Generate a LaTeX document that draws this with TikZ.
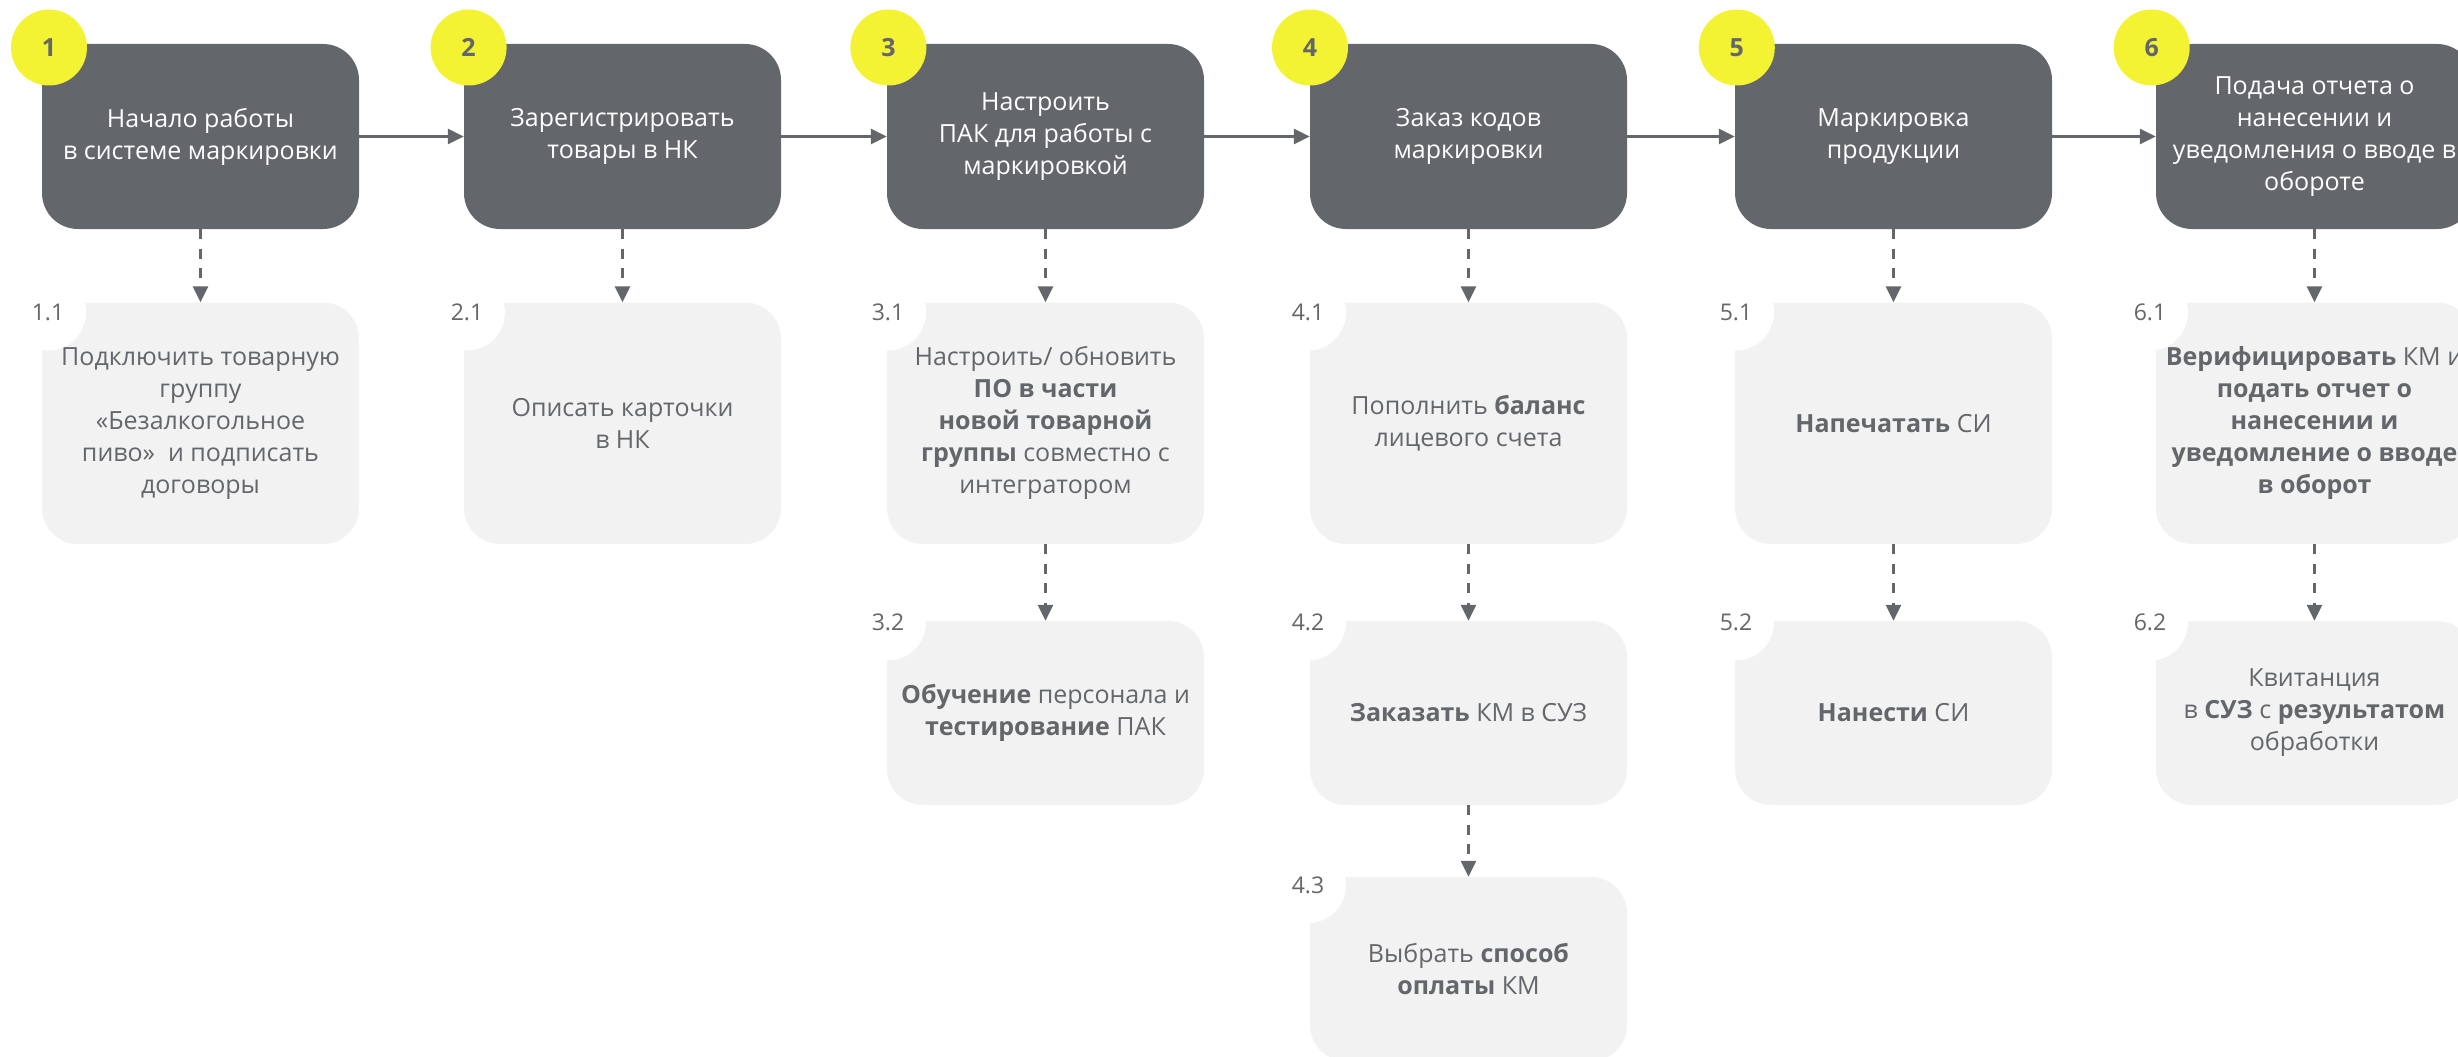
\documentclass[tikz,border=0pt]{standalone}
\usepackage{fontspec}
\setmainfont{Open Sans}
\usetikzlibrary{arrows.meta}
\definecolor{dk}{HTML}{63666A}
\definecolor{lt}{HTML}{F2F2F2}
\definecolor{yl}{HTML}{F3F233}
\tikzset{
  mainbox/.style={rectangle, rounded corners=36pt, fill=dk, text=white,
    minimum width=317pt, minimum height=185pt, inner sep=0pt, align=center,
    font=\fontsize{25}{32}\selectfont},
  subbox/.style={rectangle, rounded corners=36pt, fill=lt, text=dk,
    minimum width=317pt, inner sep=0pt, align=center,
    font=\fontsize{25}{32}\selectfont},
  tallsub/.style={subbox, minimum height=241.5pt},
  shortsub/.style={subbox, minimum height=184pt},
  numdot/.style={circle, fill=yl, minimum size=76pt, inner sep=0pt, text=dk,
    font=\fontsize{25}{30}\selectfont\bfseries},
  labdot/.style={circle, fill=white, minimum size=76pt, inner sep=0pt, text=dk,
    font=\fontsize{23}{28}\selectfont},
  flow/.style={draw=dk, line width=3pt, -{Triangle[length=16pt,width=15pt]}},
  dflow/.style={flow, dash pattern=on 10pt off 9.5pt},
}
\begin{document}
\begin{tikzpicture}[x=1pt,y=-1pt]
\useasboundingbox (0,0) rectangle (2458,1057);
\clip (0,0) rectangle (2458,1057);

% main steps
\node[mainbox] (m1) at (200.5,136.5) {Начало работы\\в системе маркировки};
\node[mainbox] (m2) at (622.5,136.5) {Зарегистрировать\\товары в НК};
\node[mainbox] (m3) at (1045.5,136.5) {Настроить\\ПАК для работы с\\маркировкой};
\node[mainbox] (m4) at (1468.5,136.5) {Заказ кодов\\маркировки};
\node[mainbox] (m5) at (1893.5,136.5) {Маркировка\\продукции};
\node[mainbox] (m6) at (2314.5,136.5) {Подача отчета о\\нанесении и\\уведомления о вводе в\\обороте};

% sub steps, row 1
\node[tallsub] (s11) at (200.5,423.25) {Подключить товарную\\группу\\«Безалкогольное\\пиво»~ и подписать\\договоры};
\node[tallsub] (s21) at (622.5,423.25) {Описать карточки\\в НК};
\node[tallsub] (s31) at (1045.5,423.25) {Настроить/ обновить\\\textbf{ПО в части}\\\textbf{новой товарной}\\\textbf{группы} совместно с\\интегратором};
\node[tallsub] (s41) at (1468.5,423.25) {Пополнить \textbf{баланс}\\лицевого счета};
\node[tallsub] (s51) at (1893.5,423.25) {\textbf{Напечатать} СИ};
\node[tallsub] (s61) at (2314.5,423.25) {\textbf{Верифицировать} КМ и\\\textbf{подать отчет о}\\\textbf{нанесении и}\\\textbf{уведомление о вводе}\\\textbf{в оборот}};

% sub steps, row 2
\node[shortsub] (s32) at (1045.5,713) {\textbf{Обучение} персонала и\\\textbf{тестирование} ПАК};
\node[shortsub] (s42) at (1468.5,713) {\textbf{Заказать} КМ в СУЗ};
\node[shortsub] (s52) at (1893.5,713) {\textbf{Нанести} СИ};
\node[shortsub] (s62) at (2314.5,713) {Квитанция\\в \textbf{СУЗ} с \textbf{результатом}\\обработки};

% sub step, row 3
\node[shortsub] (s43) at (1468.5,969) {Выбрать \textbf{способ}\\\textbf{оплаты} КМ};

% main flow
\draw[flow] (m1.east) -- (m2.west);
\draw[flow] (m2.east) -- (m3.west);
\draw[flow] (m3.east) -- (m4.west);
\draw[flow] (m4.east) -- (m5.west);
\draw[flow] (m5.east) -- (m6.west);

% dashed links
\draw[dflow] (m1.south) -- (s11.north);
\draw[dflow] (m2.south) -- (s21.north);
\draw[dflow] (m3.south) -- (s31.north);
\draw[dflow] (m4.south) -- (s41.north);
\draw[dflow] (m5.south) -- (s51.north);
\draw[dflow] (m6.south) -- (s61.north);
\draw[dflow] (s31.south) -- (s32.north);
\draw[dflow] (s41.south) -- (s42.north);
\draw[dflow] (s51.south) -- (s52.north);
\draw[dflow] (s61.south) -- (s62.north);
\draw[dflow] (s42.south) -- (s43.north);

% number badges
\node[numdot] (n1) at (49,47.5) {1};
\node[numdot] (n2) at (468.6,47.5) {2};
\node[numdot] (n3) at (888.4,47.5) {3};
\node[numdot] (n4) at (1310,47.5) {4};
\node[numdot] (n5) at (1736.8,47.5) {5};
\node[numdot] (n6) at (2151.7,47.5) {6};

% sub-step labels (white notches)
\node[labdot] (l11) at (48,312.5) {1.1};
\node[labdot] (l21) at (467,312.5) {2.1};
\node[labdot] (l31) at (888,312.5) {3.1};
\node[labdot] (l41) at (1308,312.5) {4.1};
\node[labdot] (l51) at (1736,312.5) {5.1};
\node[labdot] (l61) at (2150,312.5) {6.1};
\node[labdot] (l32) at (888,622.5) {3.2};
\node[labdot] (l42) at (1308,622.5) {4.2};
\node[labdot] (l52) at (1736,622.5) {5.2};
\node[labdot] (l62) at (2150,622.5) {6.2};
\node[labdot] (l43) at (1308,885) {4.3};
\end{tikzpicture}
\end{document}
